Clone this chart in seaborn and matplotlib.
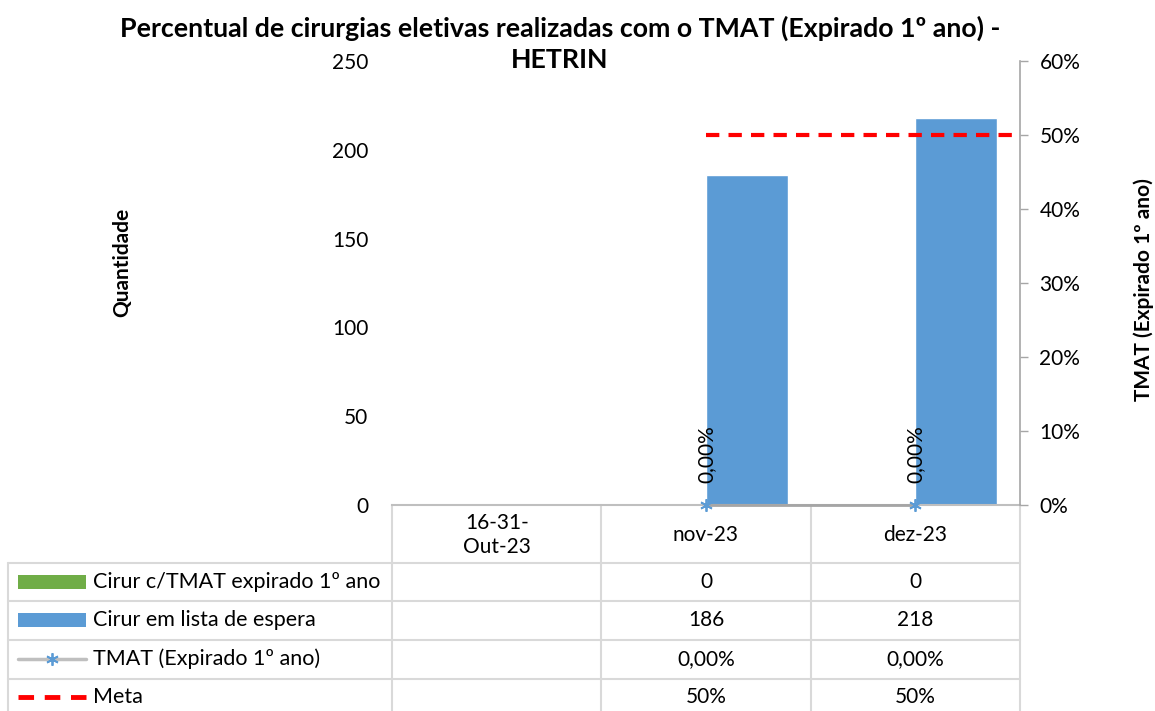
import numpy as np
import pandas as pd
import matplotlib
matplotlib.use("Agg")
import matplotlib.pyplot as plt
from matplotlib.patches import Rectangle
import seaborn as sns

# ---- data ----
categories = ["16-31-\nOut-23", "nov-23", "dez-23"]
cirur_tmat_expirado = [np.nan, 0, 0]
cirur_lista_espera = [np.nan, 186, 218]
tmat_pct = [np.nan, 0.0, 0.0]
meta_pct = [np.nan, 0.50, 0.50]

series_names = ["Cirur c/TMAT expirado 1º ano", "Cirur em lista de espera",
                "TMAT (Expirado 1º ano)", "Meta"]
title_lines = ["Percentual de cirurgias eletivas realizadas com o TMAT (Expirado 1º ano) -",
               "HETRIN"]

GREEN = "#70AD47"
BLUE = "#5B9BD5"
RED = "#FF0000"
GRAY_LINE = "#A5A5A5"
GRID = "#D9D9D9"

sns.set_theme(style="white")
plt.rcParams["font.family"] = ["Lato", "DejaVu Sans"]
plt.rcParams["text.color"] = "black"

W, H = 1155, 711
fig = plt.figure(figsize=(W / 100, H / 100), dpi=100)

# plot area in pixel units
PX0, PX1, PY0, PY1 = 392, 1020, 61, 505
ax = fig.add_axes([PX0 / W, 1 - PY1 / H, (PX1 - PX0) / W, (PY1 - PY0) / H])

bars = pd.DataFrame({
    "cat": categories * 2,
    "serie": [series_names[0]] * 3 + [series_names[1]] * 3,
    "valor": cirur_tmat_expirado + cirur_lista_espera,
})
sns.barplot(data=bars, x="cat", y="valor", hue="serie", order=categories,
            hue_order=series_names[:2], palette=[GREEN, BLUE], width=0.78,
            saturation=1, ax=ax, legend=False)
ax.set_xlim(-0.5, len(categories) - 0.5)
ax.set_ylim(0, 250)
ax.set_yticks(range(0, 251, 50))
ax.tick_params(axis="y", labelsize=15, length=0, pad=17, colors="black")
ax.set_xticks([])
ax.set_xlabel("")
ax.set_ylabel("")
for s in ["left", "top", "right"]:
    ax.spines[s].set_visible(False)
ax.spines["bottom"].set_color("#BFBFBF")
ax.spines["bottom"].set_linewidth(1.5)
ax.patch.set_alpha(0)

# secondary value axis (percent)
ax2 = ax.twinx()
ax2.set_ylim(0, 0.60)
pct_ticks = np.arange(0, 0.61, 0.10)
ax2.set_yticks(pct_ticks)
ax2.set_yticklabels([f"{int(round(v * 100))}%" for v in pct_ticks])
ax2.tick_params(axis="y", labelsize=15, length=6, width=1, color="#A6A6A6",
                pad=8, labelcolor="black")
for s in ["left", "top", "bottom"]:
    ax2.spines[s].set_visible(False)
ax2.spines["right"].set_color("#A6A6A6")
ax2.spines["right"].set_linewidth(1.2)
ax2.grid(False)

xi = np.arange(len(categories))
ax2.plot(xi, tmat_pct, color=GRAY_LINE, lw=2, marker=(6, 2, 0), ms=9,
         mec=BLUE, mew=1.3, zorder=5, clip_on=False)
for x, v in zip(xi, tmat_pct):
    if not np.isnan(v):
        ax2.annotate(f"{v * 100:.2f}%".replace(".", ","), (x, v),
                     xytext=(0, 16), textcoords="offset points",
                     rotation=90, ha="center", va="bottom", fontsize=15)

# target line on a secondary category axis (points placed on tick marks)
ax3 = ax2.twiny()
ax3.set_xlim(0, len(categories) - 1)
ax3.plot(xi, meta_pct, color=RED, lw=3, ls=(0, (3.2, 2.2)), zorder=6)
ax3.set_xticks([])
ax3.axis("off")

# chart title (two lines) and axis titles
fig.text(560 / W, 1 - 28 / H, title_lines[0], ha="center", va="center",
         fontsize=19.3, fontweight="bold")
fig.text(560 / W, 1 - 60 / H, title_lines[1], ha="center", va="center",
         fontsize=19.3, fontweight="bold")
fig.text(122 / W, 1 - 262 / H, "Quantidade", rotation=90, ha="center",
         va="center", fontsize=15, fontweight="bold")
fig.text(1144 / W, 1 - 290 / H, "TMAT (Expirado 1º ano)", rotation=90,
         ha="center", va="center", fontsize=15, fontweight="bold")

# ---- data table below the plot ----
ov = fig.add_axes([0, 0, 1, 1], zorder=-1)
ov.set_xlim(0, W)
ov.set_ylim(H, 0)
ov.axis("off")

n = len(categories)
col_w = (PX1 - PX0) / n
col_edges = [PX0 + i * col_w for i in range(n + 1)]
col_centers = [PX0 + (i + 0.5) * col_w for i in range(n)]
TX0 = 8
row_edges = [563, 601, 640, 679, 720]

for xe in col_edges:
    ov.plot([xe, xe], [PY1, H], color=GRID, lw=1.5)
ov.plot([TX0, TX0], [row_edges[0], H], color=GRID, lw=1.5)
for ye in row_edges[:-1]:
    ov.plot([TX0, PX1], [ye, ye], color=GRID, lw=1.5)

for xc, lab in zip(col_centers, categories):
    ov.text(xc, (PY1 + row_edges[0]) / 2 + 1, lab, ha="center", va="center",
            fontsize=15, linespacing=1.25)


def fmt_int(v):
    return "" if np.isnan(v) else f"{int(v)}"


def fmt_pct2(v):
    return "" if np.isnan(v) else f"{v * 100:.2f}%".replace(".", ",")


def fmt_pct0(v):
    return "" if np.isnan(v) else f"{int(round(v * 100))}%"


rows = [
    (series_names[0], [fmt_int(v) for v in cirur_tmat_expirado]),
    (series_names[1], [fmt_int(v) for v in cirur_lista_espera]),
    (series_names[2], [fmt_pct2(v) for v in tmat_pct]),
    (series_names[3], [fmt_pct0(v) for v in meta_pct]),
]
row_centers = [582, 620, 659, 697]
for (name, vals), yc in zip(rows, row_centers):
    ov.text(93, yc, name, ha="left", va="center", fontsize=15.5)
    for xc, t in zip(col_centers, vals):
        ov.text(xc, yc, t, ha="center", va="center", fontsize=15)

# legend keys
ov.add_patch(Rectangle((18, row_centers[0] - 7), 68, 14, color=GREEN, lw=0))
ov.add_patch(Rectangle((18, row_centers[1] - 7), 68, 14, color=BLUE, lw=0))
ov.plot([18, 86], [row_centers[2]] * 2, color="#BFBFBF", lw=2.5)
ov.plot([52], [row_centers[2]], marker=(6, 2, 0), ms=9, mec=BLUE, mew=1.3,
        ls="none")
ov.plot([18, 86], [row_centers[3]] * 2, color=RED, lw=3.5, ls=(0, (3.2, 2.2)))

fig.savefig("out.png", dpi=100)
